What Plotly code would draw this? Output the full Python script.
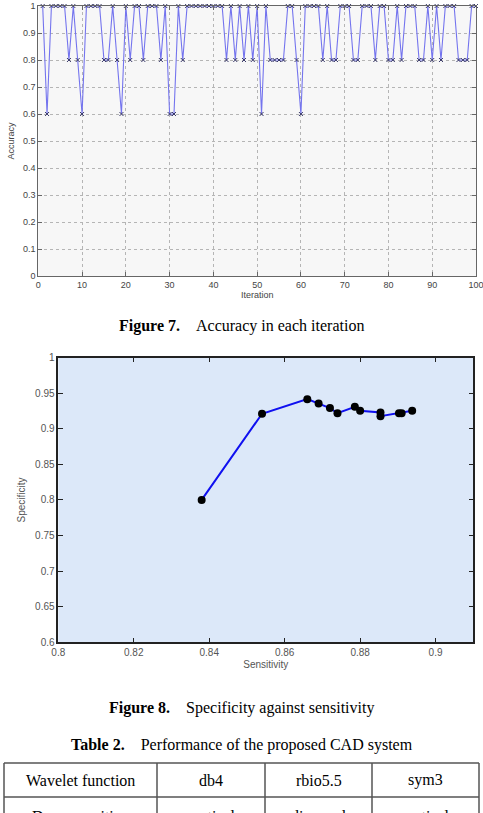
import plotly.graph_objects as go

# ---------------- data ----------------
iterations = list(range(1, 101))
accuracy = [
    1, 0.6, 1, 1, 1, 1, 0.8, 1, 0.8, 0.6,            # 1-10
    1, 1, 1, 1, 0.8, 0.8, 1, 0.8, 0.6, 1,            # 11-20
    0.8, 1, 1, 0.8, 1, 1, 1, 0.8, 1, 0.6,            # 21-30
    0.6, 1, 0.8, 1, 1, 1, 1, 1, 1, 1,                # 31-40
    1, 1, 0.8, 1, 0.8, 1, 0.8, 1, 0.8, 1,            # 41-50
    0.6, 1, 0.8, 0.8, 0.8, 0.8, 1, 1, 0.8, 0.6,      # 51-60
    1, 1, 1, 1, 0.8, 1, 0.8, 0.8, 1, 1,              # 61-70
    1, 0.8, 0.8, 1, 1, 1, 0.8, 1, 1, 0.8,            # 71-80
    0.8, 1, 0.8, 1, 1, 1, 0.8, 0.8, 1, 0.8,          # 81-90
    1, 0.8, 1, 1, 1, 0.8, 0.8, 0.8, 1, 1,            # 91-100
]

sensitivity = [0.838, 0.854, 0.866, 0.869, 0.872, 0.874, 0.8786, 0.880,
               0.8854, 0.8854, 0.8903, 0.891, 0.8938]
specificity = [0.800, 0.921, 0.9415, 0.9354, 0.9289, 0.9218, 0.9307, 0.9251,
               0.9227, 0.9176, 0.9218, 0.9218, 0.9251]

acc_yticks = [0, 0.1, 0.2, 0.3, 0.4, 0.5, 0.6, 0.7, 0.8, 0.9, 1]
acc_ylabels = ["0", "0.1", "0.2", "0.3", "0.4", "0.5", "0.6", "0.7", "0.8", "0.9", "1"]
acc_xticks = [0, 10, 20, 30, 40, 50, 60, 70, 80, 90, 100]
acc_xlabels = ["0", "10", "20", "30", "40", "50", "60", "70", "80", "90", "100"]
sens_ticks = [0.8, 0.82, 0.84, 0.86, 0.88, 0.9]
sens_labels = ["0.8", "0.82", "0.84", "0.86", "0.88", "0.9"]
spec_ticks = [0.6, 0.65, 0.7, 0.75, 0.8, 0.85, 0.9, 0.95, 1]
spec_labels = ["0.6", "0.65", "0.7", "0.75", "0.8", "0.85", "0.9", "0.95", "1"]

caption7 = ("Figure 7.", "Accuracy in each iteration")
caption8 = ("Figure 8.", "Specificity against sensitivity")
table_title = ("Table 2.", "Performance of the proposed CAD system")
table_header = ["Wavelet function", "db4", "rbio5.5", "sym3"]
table_row2 = ["Decomposition", "vertical", "diagonal", "vertical"]

# ---------------- layout helpers ----------------
W, H = 483, 813


def py(p):
    """pixel row -> paper y"""
    return 1 - p / H


def px(p):
    return p / W


fig = go.Figure()

fig.add_trace(go.Scatter(
    x=iterations, y=accuracy, mode="lines+markers",
    line=dict(color="#7474ee", width=1.1),
    marker=dict(symbol="x-thin", size=4, color="#3a3a6a",
                line=dict(width=1, color="#3a3a6a")),
    xaxis="x", yaxis="y", cliponaxis=False, showlegend=False,
))

fig.add_trace(go.Scatter(
    x=sensitivity, y=specificity, mode="lines+markers",
    line=dict(color="#1010f0", width=2),
    marker=dict(symbol="circle", size=8, color="black"),
    xaxis="x2", yaxis="y2", cliponaxis=False, showlegend=False,
))

sans = "Liberation Sans, Arial"
tickfont = dict(family=sans, size=9, color="#444")
frame1 = "#666"
frame2 = "#222"

fig.update_layout(
    width=W, height=H,
    margin=dict(l=0, r=0, t=0, b=0),
    paper_bgcolor="white",
    plot_bgcolor="rgba(0,0,0,0)",
    xaxis=dict(
        domain=[px(38.3), px(476)], anchor="y", range=[0, 100], automargin=False,
        tickvals=acc_xticks, ticktext=acc_xlabels, ticks="inside", ticklen=4, tickcolor=frame1,
        ticklabeloverflow="allow",
        showline=True, linecolor=frame1, linewidth=1, mirror="ticks",
        showgrid=True, gridcolor="#b5b5b5", griddash="dot", gridwidth=1,
        zeroline=False, tickfont=tickfont,
        title=dict(text="Iteration", font=dict(family=sans, size=9, color="#444"), standoff=2),
    ),
    yaxis=dict(
        domain=[py(276), py(6)], anchor="x", range=[0, 1], automargin=False,
        tickvals=acc_yticks, ticktext=acc_ylabels, ticks="inside", ticklen=4, tickcolor=frame1,
        ticklabeloverflow="allow",
        showline=True, linecolor=frame1, linewidth=1, mirror="ticks",
        showgrid=True, gridcolor="#b5b5b5", griddash="dot", gridwidth=1,
        zeroline=False, tickfont=tickfont,
        title=dict(text="Accuracy", font=dict(family=sans, size=9, color="#444"), standoff=6),
    ),
    xaxis2=dict(
        domain=[px(58.3), px(473.3)], anchor="y2", range=[0.8, 0.91], automargin=False,
        tickvals=sens_ticks, ticktext=sens_labels, ticks="inside", ticklen=5, tickcolor=frame2,
        showline=True, linecolor=frame2, linewidth=1.5, mirror="ticks",
        showgrid=False, zeroline=False,
        tickfont=dict(family=sans, size=10, color="#555"),
        title=dict(text="Sensitivity", font=dict(family=sans, size=10, color="#555"), standoff=4),
    ),
    yaxis2=dict(
        domain=[py(642.3), py(357.5)], anchor="x2", range=[0.6, 1], automargin=False,
        tickvals=spec_ticks, ticktext=spec_labels, ticks="inside", ticklen=5, tickcolor=frame2,
        showline=True, linecolor=frame2, linewidth=1.5, mirror="ticks",
        showgrid=False, zeroline=False,
        tickfont=dict(family=sans, size=10, color="#555"),
        title=dict(text="Specificity", font=dict(family=sans, size=10, color="#555"), standoff=8),
    ),
)

# subplot backgrounds
fig.add_shape(type="rect", xref="x domain", yref="y domain", x0=0, x1=1, y0=0, y1=1,
              fillcolor="#f7f7f7", line=dict(width=0), layer="below")
fig.add_shape(type="rect", xref="x2 domain", yref="y2 domain", x0=0, x1=1, y0=0, y1=1,
              fillcolor="#dce8f9", line=dict(width=0), layer="below")

serif = "Liberation Serif, Times New Roman, serif"
sp = "\u00a0\u00a0\u00a0\u00a0"


def caption(parts, ypix, size=16):
    fig.add_annotation(
        xref="paper", yref="paper", x=0.5, y=py(ypix), showarrow=False,
        text=f"<b>{parts[0]}</b>{sp}{parts[1]}",
        font=dict(family=serif, size=size, color="black"),
        xanchor="center", yanchor="middle",
    )


caption(caption7, 326)
caption(caption8, 708)
caption(table_title, 745)

# table
col_edges = [4, 157, 265, 372, 479]
row_edges = [763, 797, 840]
text_rows_y = [780, 816.5]
for xe in col_edges:
    fig.add_shape(type="line", xref="paper", yref="paper",
                  x0=px(xe), x1=px(xe), y0=py(row_edges[0]), y1=py(row_edges[-1]),
                  line=dict(color="#555", width=1.5))
for ye in row_edges:
    fig.add_shape(type="line", xref="paper", yref="paper",
                  x0=px(col_edges[0]), x1=px(col_edges[-1]), y0=py(ye), y1=py(ye),
                  line=dict(color="#555", width=1.5))

for r, row in enumerate([table_header, table_row2]):
    yc = text_rows_y[r]
    for c, txt in enumerate(row):
        xc = (col_edges[c] + col_edges[c + 1]) / 2
        fig.add_annotation(
            xref="paper", yref="paper", x=px(xc), y=py(yc), showarrow=False,
            text=txt, font=dict(family=serif, size=16, color="black"),
            xanchor="center", yanchor="middle",
        )

fig.write_html("out.html")
